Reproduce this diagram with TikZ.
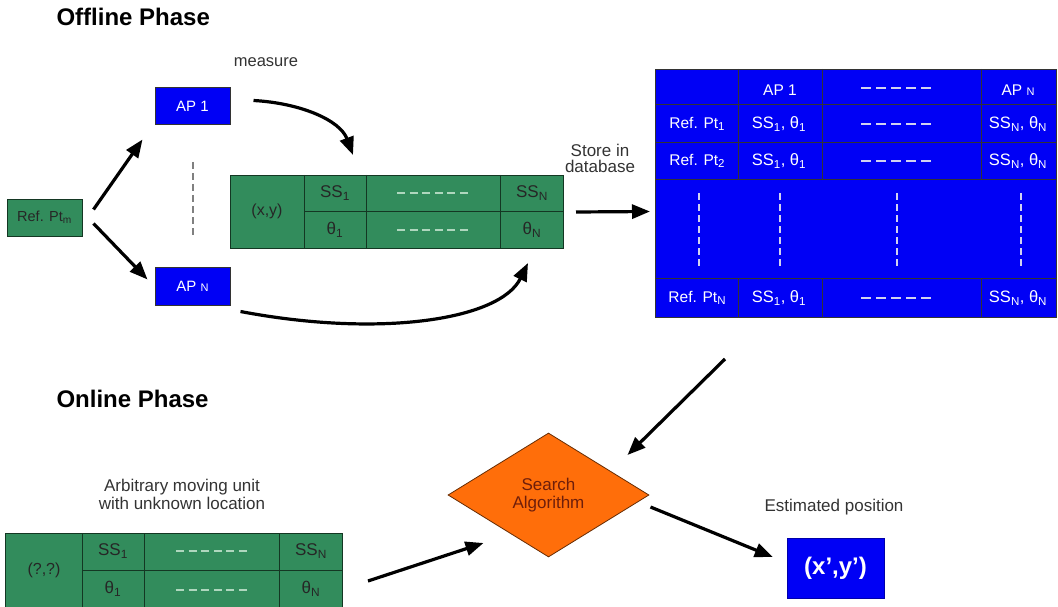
\documentclass[tikz,border=0pt]{standalone}
\usepackage{fontspec}
\setmainfont{Liberation Sans}
\usetikzlibrary{arrows.meta,shapes.geometric}

\definecolor{cellgreen}{RGB}{50,140,92}
\definecolor{cellblue}{RGB}{0,0,245}
\definecolor{algorange}{RGB}{255,110,10}
\definecolor{algtext}{RGB}{110,30,10}
\definecolor{gridgreen}{RGB}{20,55,35}
\definecolor{dashgreen}{RGB}{175,215,190}
\definecolor{dashblue}{RGB}{210,210,240}

\newcommand{\sz}[1]{\fontsize{#1}{#1}\selectfont}

\begin{document}
\begin{tikzpicture}[x=1pt,y=-1pt,
  flow/.style={line width=3.2pt,-{Triangle[length=18pt,width=14pt]}},
  gbox/.style={draw=gridgreen,line width=1pt,fill=cellgreen,inner sep=0pt},
  bbox/.style={draw=black!80,line width=1pt,fill=cellblue,inner sep=0pt},
  gline/.style={draw=gridgreen,line width=1pt},
  bline/.style={draw=black!80,line width=1pt},
  gtxt/.style={text=black!85,font=\sz{16}},
  wtxt/.style={text=white,font=\sz{15.5}},
  note/.style={text=black!80,font=\sz{17},align=center},
  title/.style={font=\sz{24}\bfseries,anchor=west},
  gdash/.style={draw=dashgreen,line width=1.8pt,dash pattern=on 8pt off 4.6pt},
  bdash/.style={draw=dashblue,line width=1.8pt,dash pattern=on 10pt off 5pt},
  vdash/.style={draw=dashblue,line width=1.4pt,dash pattern=on 7pt off 4pt}]

\useasboundingbox (0,0) rectangle (1058,607);

% ---------------- Offline phase ----------------
\node[title] (offt) at (53,17) {Offline Phase};
\node[note,font=\sz{16.5}] (meas_lbl) at (266,62) {measure};

\node[gbox,minimum width=75pt,minimum height=37pt,text=black!85,font=\sz{14.5}]
  (ref) at (44.5,217.5) {Ref. Pt\textsubscript{m}};
\node[bbox,minimum width=75pt,minimum height=37pt,text=white,font=\sz{15}]
  (ap1) at (192.5,106.5) {AP 1};
\node[bbox,minimum width=75pt,minimum height=38pt,text=white,font=\sz{15}]
  (apn) at (192.5,286) {AP {\sz{11}N}};
\coordinate (vd1) at (193,162);
\coordinate (vd2) at (193,236);
\draw[draw=gray,line width=1.5pt,dash pattern=on 7pt off 4pt] (vd1) -- (vd2);

% measurement record of one reference point
\node[gbox,anchor=north west,minimum width=333pt,minimum height=73pt] (rec) at (230,175) {};
\draw[gline] (304,175) -- (304,248) (366,175) -- (366,248) (500,175) -- (500,248)
  (304,211) -- (563,211);
\node[gtxt] (rxy) at (267,211) {(x,y)};
\node[gtxt,font=\sz{17}] (rss1) at (335,193) {SS\textsubscript{1}};
\node[gtxt,font=\sz{17}] (rth1) at (335,230) {θ\textsubscript{1}};
\node[gtxt,font=\sz{17}] (rssn) at (532,193) {SS\textsubscript{N}};
\node[gtxt,font=\sz{17}] (rthn) at (532,230) {θ\textsubscript{N}};
\draw[gdash] (397,193) -- (470,193);
\draw[gdash] (397,230) -- (470,230);

\node[note] (store) at (600,158) {Store in\\[-1pt]database};

% fingerprint database
\node[bbox,anchor=north west,minimum width=401pt,minimum height=248pt] (db) at (655,69) {};
\draw[bline] (655,105) -- (1056,105) (655,143) -- (1056,143) (655,180) -- (1056,180)
  (655,278) -- (1056,278);
\foreach \c in {738,822,981}{
  \draw[bline] (\c,69) -- (\c,180) (\c,278) -- (\c,317);
}
\node[wtxt] (h1) at (780,90) {AP 1};
\node[wtxt] (hn) at (1018,90) {AP {\sz{11}N}};
\draw[bdash] (861,88) -- (935,88);
\foreach \y/\r/\n in {124/1/1,161/2/2,298/N/n}{
  \node[wtxt] (rp\n) at (697,\y) {Ref. Pt{\sz{11.5}\raisebox{-2pt}{\r}}};
  \node[wtxt,font=\sz{16.5}] (s1\n) at (779,\y) {SS\textsubscript{1}, θ\textsubscript{1}};
  \node[wtxt,font=\sz{16.5}] (sn\n) at (1018,\y) {SS\textsubscript{N}, θ\textsubscript{N}};
  \draw[bdash] (861,\y) -- (935,\y);
}
\foreach \c in {699,780,897,1021}{
  \draw[vdash] (\c,193) -- (\c,266);
}

% ---------------- Online phase ----------------
\node[title] (onlt) at (53,399) {Online Phase};
\node[note] (unk) at (182,494) {Arbitrary moving unit\\[1pt]with unknown location};

\node[gbox,anchor=north west,minimum width=337pt,minimum height=75pt] (obs) at (5,533) {};
\draw[gline] (82,533) -- (82,608) (144,533) -- (144,608) (279,533) -- (279,608)
  (82,570) -- (342,570);
\node[gtxt] (oxy) at (44,570) {(?,?)};
\node[gtxt,font=\sz{17}] (oss1) at (113,551) {SS\textsubscript{1}};
\node[gtxt,font=\sz{17}] (oth1) at (113,589) {θ\textsubscript{1}};
\node[gtxt,font=\sz{17}] (ossn) at (311,551) {SS\textsubscript{N}};
\node[gtxt,font=\sz{17}] (othn) at (311,589) {θ\textsubscript{N}};
\draw[gdash] (176,551) -- (249,551);
\draw[gdash] (176,590) -- (249,590);

\node[diamond,draw=black!60!algorange,line width=0.8pt,fill=algorange,
  minimum width=201pt,minimum height=124pt,inner sep=0pt,
  text=algtext,font=\sz{17},align=center] (alg) at (548.5,495) {Search\\[1pt]Algorithm};

\node[note] (estl) at (834,507) {Estimated position};
\node[fill=cellblue,draw=cellblue!70!black,minimum width=97pt,minimum height=60pt,
  text=white,font=\sz{24}\bfseries] (est) at (835.5,568) {(x’,y’)};

% ---------------- connectors ----------------
\draw[flow] ([shift={(11,-8)}]ref.east) -- ([shift={(-12,14)}]ap1.south west);
\draw[flow] ([shift={(11,6)}]ref.east) -- ([shift={(-7,13)}]apn.north west);
\draw[flow] ([shift={(23,-6)}]ap1.east) .. controls (300,103) and (340,120) .. ([shift={(123,-20)}]rec.north west);
\draw[flow] ([shift={(10,6)}]apn.south east) .. controls (380,338) and (500,320) .. ([shift={(-36,14)}]rec.south east);
\draw[flow] ([shift={(12,0)}]rec.east) -- ([shift={(-5,18)}]db.west);
\draw[flow] ([shift={(70,41)}]db.south west) -- ([shift={(79,-40)}]alg.center);
\draw[flow] ([shift={(25,10)}]obs.east) -- ([shift={(-65,48)}]alg.center);
\draw[flow] ([shift={(102,12)}]alg.center) -- ([shift={(-14,-11)}]est.west);

\end{tikzpicture}
\end{document}
